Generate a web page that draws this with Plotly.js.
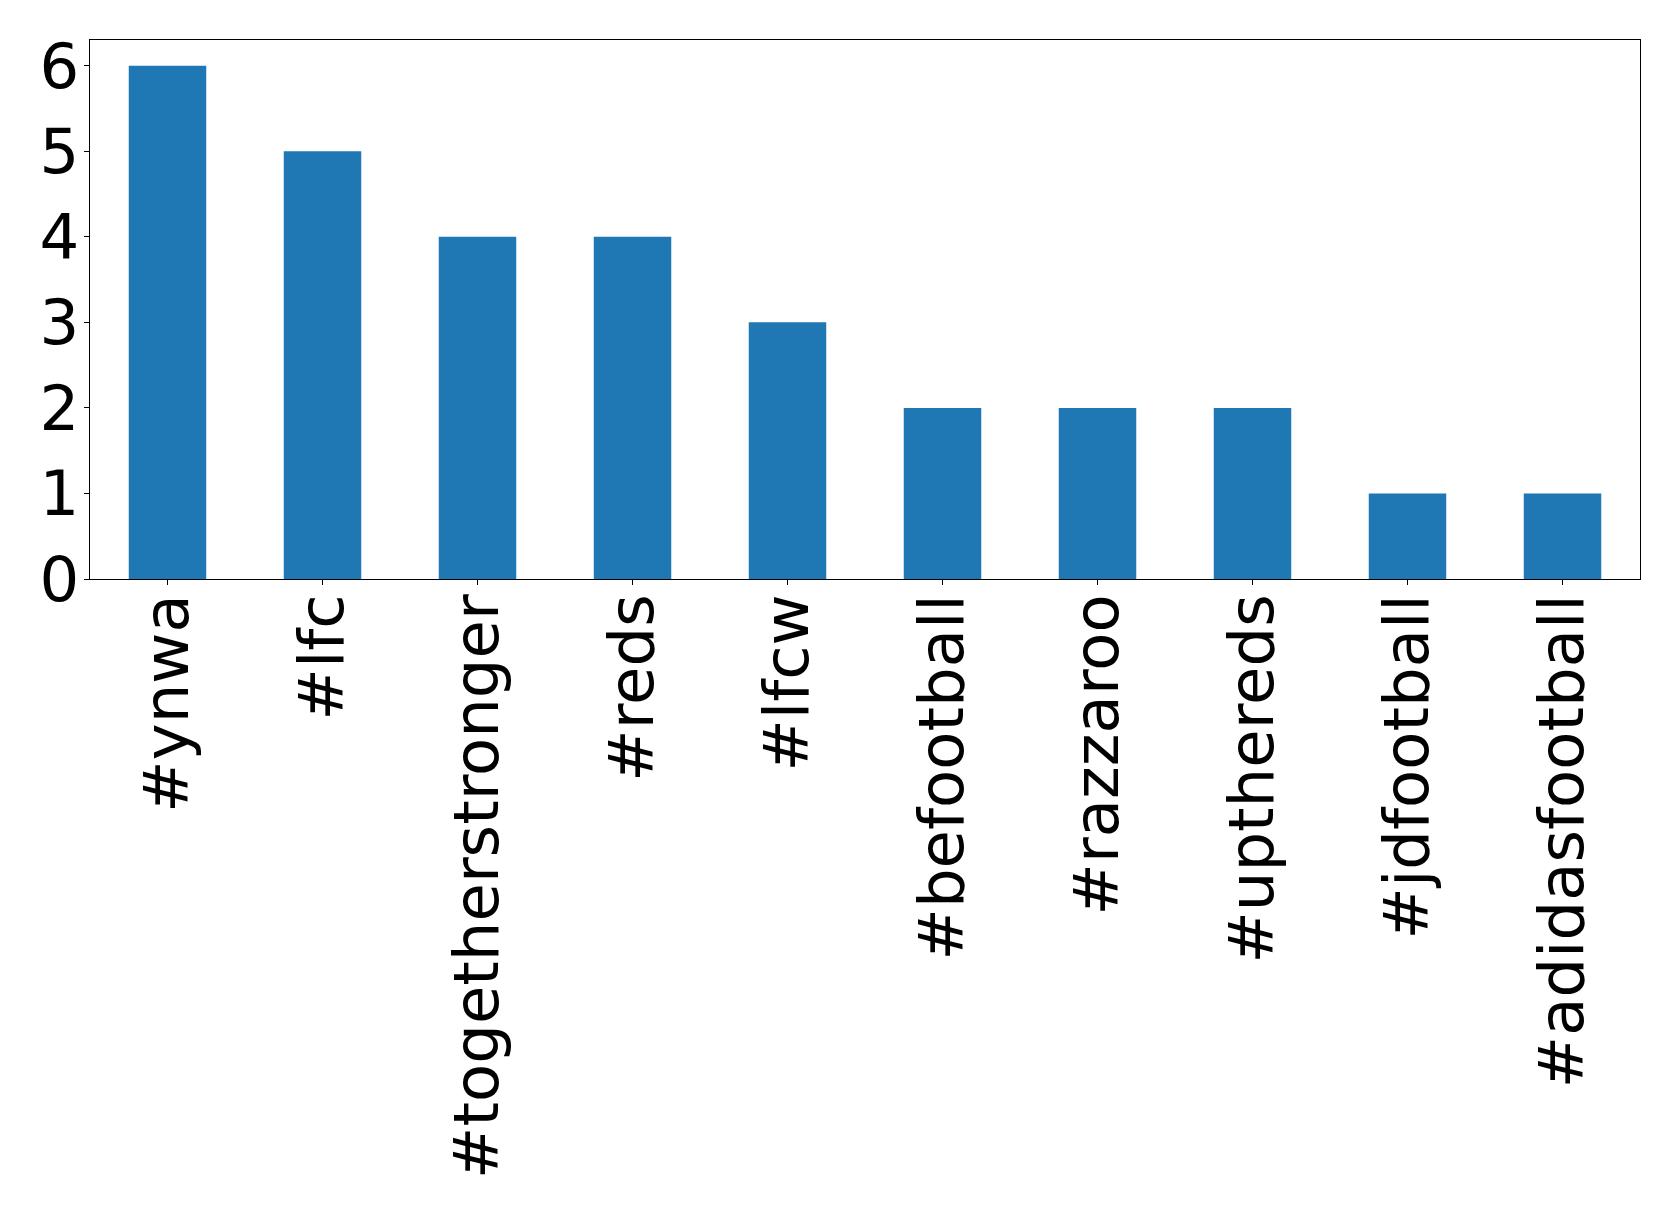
<!DOCTYPE html>
<html>
<head>
<meta charset="utf-8">
<script src="https://cdn.plot.ly/plotly-3.0.1.min.js"></script>
<style>html,body{margin:0;padding:0;background:#fff;}</style>
</head>
<body>
<div id="chart" style="width:1679px;height:1213px;"></div>
<script>
const hashtags = ["#ynwa", "#lfc", "#togetherstronger", "#reds", "#lfcw", "#befootball", "#razzaroo", "#upthereds", "#jdfootball", "#adidasfootball"];
const counts = [6, 5, 4, 4, 3, 2, 2, 2, 1, 1];
const yTicks = [0, 1, 2, 3, 4, 5, 6];

const trace = {
  type: "bar",
  x: hashtags,
  y: counts,
  width: 0.5,
  marker: {color: "#1f77b4", line: {width: 0}},
  hoverinfo: "x+y"
};

const layout = {
  width: 1679,
  height: 1213,
  margin: {l: 90, r: 39, t: 40, b: 634, pad: 0},
  paper_bgcolor: "#ffffff",
  plot_bgcolor: "#ffffff",
  showlegend: false,
  font: {family: "DejaVu Sans, sans-serif", color: "#000000", size: 62.5},
  xaxis: {
    type: "category",
    range: [-0.5, 9.5],
    tickangle: -90,
    ticks: "outside",
    ticklen: 5,
    tickwidth: 1,
    tickcolor: "#000",
    ticklabelstandoff: -16,
    showline: true,
    linecolor: "#000",
    linewidth: 1.3,
    mirror: true,
    showgrid: false,
    zeroline: false,
    tickfont: {family: "DejaVu Sans, sans-serif", size: 62.5, color: "#000"},
    automargin: false
  },
  yaxis: {
    range: [0, 6.3],
    tickvals: yTicks,
    ticktext: yTicks.map(String),
    ticks: "outside",
    ticklen: 5,
    tickwidth: 1,
    tickcolor: "#000",
    ticklabelstandoff: -8,
    showline: true,
    linecolor: "#000",
    linewidth: 1.3,
    mirror: true,
    showgrid: false,
    zeroline: false,
    tickfont: {family: "DejaVu Sans, sans-serif", size: 62.5, color: "#000"},
    automargin: false
  }
};

Plotly.newPlot("chart", [trace], layout, {displayModeBar: false, staticPlot: true});
</script>
</body>
</html>
